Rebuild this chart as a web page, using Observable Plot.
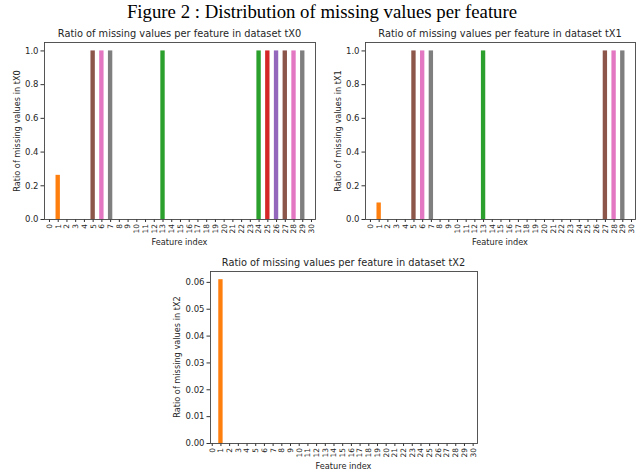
<!DOCTYPE html>
<html>
<head>
<meta charset="utf-8">
<script src="https://cdn.jsdelivr.net/npm/d3@7"></script>
<script src="https://cdn.jsdelivr.net/npm/@observablehq/plot@0.6"></script>
<style>
  body { margin: 0; background: #fff; }
  #fig { position: relative; width: 640px; height: 470px; background: #fff; font-family: "DejaVu Sans", sans-serif; color: #262626; overflow: hidden; }
  .abs { position: absolute; white-space: nowrap; }
  .ttl { font-size: 9.8px; transform: translate(-50%, -50%); }
  .xl { font-size: 8.2px; transform: translate(-50%, -50%); }
  .yl { font-size: 8.2px; transform: translate(-50%, -50%) rotate(-90deg); }
</style>
</head>
<body>
<div id="fig">
  <div class="abs" style="left:322px;top:12px;transform:translate(-50%,-50%);font-family:'Liberation Serif','Times New Roman',serif;font-size:18.8px;color:#000;">Figure 2 : Distribution of missing values per feature</div>
</div>
<script>
// ---- data ----
const featureIndex = [0,1,2,3,4,5,6,7,8,9,10,11,12,13,14,15,16,17,18,19,20,21,22,23,24,25,26,27,28,29,30];
const ratioTX0 = [0,0.262,0,0,0,1,1,1,0,0,0,0,0,1,0,0,0,0,0,0,0,0,0,0,1,1,1,1,1,1,0];
const ratioTX1 = [0,0.098,0,0,0,1,1,1,0,0,0,0,0,1,0,0,0,0,0,0,0,0,0,0,0,0,0,1,1,1,0];
const ratioTX2 = [0,0.061,0,0,0,0,0,0,0,0,0,0,0,0,0,0,0,0,0,0,0,0,0,0,0,0,0,0,0,0,0];
const ticksTX01 = [0,0.2,0.4,0.6,0.8,1.0];
const ticksTX2 = [0,0.01,0.02,0.03,0.04,0.05,0.06];
const datasetNames = ["tX0","tX1","tX2"];

// colour cycle used by the original figure
const palette = ["#1f77b4","#ff7f0e","#2ca02c","#d62728","#9467bd","#8c564b","#e377c2","#7f7f7f","#bcbd22","#17becf","#1f77b4"];

const fig = document.getElementById("fig");

function addText(cls, text, x, y) {
  const d = document.createElement("div");
  d.className = "abs " + cls;
  d.style.left = x + "px";
  d.style.top = y + "px";
  d.textContent = text;
  fig.appendChild(d);
}

function panel({values, name, yTicks, yFmt, left, top, width, height, mL, mR, mT, mB, xDomain}) {
  const data = featureIndex.map((f, k) => ({f, v: values[k]}));
  const yMax = d3.max(values) * 1.05;
  const chart = Plot.plot({
    width, height,
    marginLeft: mL, marginRight: mR, marginTop: mT, marginBottom: mB,
    style: {fontFamily: "DejaVu Sans, sans-serif", background: "transparent", overflow: "visible", color: "#262626"},
    x: {type: "linear", domain: xDomain},
    y: {domain: [0, yMax]},
    marks: [
      Plot.rectY(data.filter(d => d.v > 0), {
        x1: d => d.f - 0.25, x2: d => d.f + 0.25, y: "v",
        fill: d => palette[d.f % palette.length]
      }),
      Plot.axisY({ticks: yTicks, tickFormat: d3.format(yFmt), tickSize: 3.5, tickPadding: 2.5, fontSize: 8.5, label: null, stroke: "#333"}),
      Plot.axisX({ticks: featureIndex, tickFormat: d => String(d), tickRotate: -90, tickSize: 3, tickPadding: 1.5, fontSize: 7.5, label: null, stroke: "#333"}),
      Plot.frame({stroke: "#444", strokeWidth: 0.9})
    ]
  });
  chart.style.position = "absolute";
  chart.style.left = left + "px";
  chart.style.top = top + "px";
  fig.appendChild(chart);

  const fx0 = left + mL, fx1 = left + width - mR, fy0 = top + mT, fy1 = top + height - mB;
  const cx = (fx0 + fx1) / 2, cy = (fy0 + fy1) / 2;
  addText("ttl", "Ratio of missing values per feature in dataset " + name, cx, fy0 - 9);
  addText("xl", "Feature index", cx, fy1 + 23);
  addText("yl", "Ratio of missing values in " + name, fx0 - (yFmt === ".2f" ? 33 : 27), cy);
}

panel({values: ratioTX0, name: datasetNames[0], yTicks: ticksTX01, yFmt: ".1f",
  left: 0, top: 22, width: 320, height: 230, mL: 44, mR: 5, mT: 20, mB: 33, xDomain: [-0.57, 30.46]});
panel({values: ratioTX1, name: datasetNames[1], yTicks: ticksTX01, yFmt: ".1f",
  left: 320, top: 22, width: 320, height: 230, mL: 45, mR: 5, mT: 20, mB: 33, xDomain: [-0.57, 30.46]});
panel({values: ratioTX2, name: datasetNames[2], yTicks: ticksTX2, yFmt: ".2f",
  left: 160, top: 250, width: 320, height: 220, mL: 50, mR: 3, mT: 21, mB: 27, xDomain: [-0.2, 30.5]});
</script>
</body>
</html>
